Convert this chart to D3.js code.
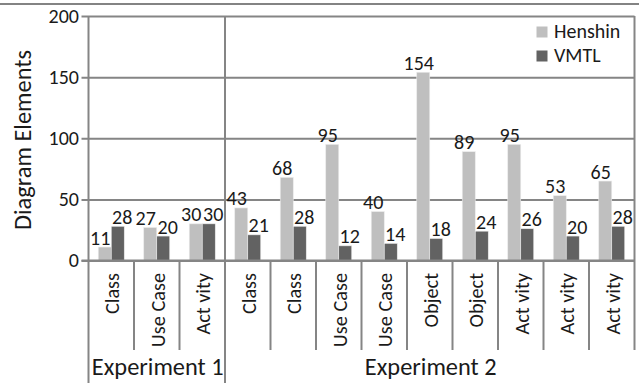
<!DOCTYPE html>
<html>
<head>
<meta charset="utf-8">
<script src="https://cdn.jsdelivr.net/npm/d3@7"></script>
<style>
  html, body { margin: 0; padding: 0; background: #fff; }
  svg { display: block; }
  text { font-family: Carlito, Lato, "Open Sans", sans-serif; fill: #1a1a1a; }
</style>
</head>
<body>
<svg id="chart" width="639" height="383"></svg>
<script>
// Diagram element counts per diagram, Henshin vs. VMTL
const categories = ["Class", "Use Case", "Act vity", "Class", "Class", "Use Case", "Use Case", "Object", "Object", "Act vity", "Act vity", "Act vity"];
const henshin = [11, 27, 30, 43, 68, 95, 40, 154, 89, 95, 53, 65];
const vmtl = [28, 20, 30, 21, 28, 12, 14, 18, 24, 26, 20, 28];
const seriesNames = ["Henshin", "VMTL"];
const seriesColors = ["#bfbfbf", "#626262"];
const groupNames = ["Experiment 1", "Experiment 2"];
const groupSizes = [3, 9];
const yTicks = [0, 50, 100, 150, 200];

const svg = d3.select("#chart");
const W = 639, H = 383;
const plotLeft = 88.5, plotRight = 634.5, plotTop = 16, plotBottom = 260.5;
const gridColor = "#858585";
const fontStack = "Carlito, Lato, 'Open Sans', sans-serif";

const x = d3.scaleBand().domain(d3.range(categories.length)).range([plotLeft, plotRight]);
const bw = x.bandwidth();
const xs = d3.scaleBand().domain(seriesNames).range([bw / 2 - 13, bw / 2 + 13]);
const y = d3.scaleLinear().domain([0, 200]).range([plotBottom, plotTop]);

// frame line across the top
svg.append("line").attr("x1", 0).attr("x2", W).attr("y1", 4).attr("y2", 4)
  .attr("stroke", "#5a5a5a").attr("stroke-width", 1.5);

// value axis with gridlines
const yAxis = d3.axisLeft(y).tickValues(yTicks).tickSize(-(plotRight - 81.5)).tickPadding(2.5);
const gy = svg.append("g").attr("transform", "translate(81.5,0)").call(yAxis);
gy.select(".domain").remove();
gy.selectAll(".tick line").attr("stroke", gridColor).attr("stroke-width", 2);
gy.selectAll(".tick text").attr("font-size", 20).attr("fill", "#1a1a1a")
  .attr("font-family", fontStack);

// vertical frame and group separators
const groupBounds = [0];
groupSizes.forEach((s, i) => groupBounds.push(groupBounds[i] + s));
const edgeX = i => (i >= categories.length ? plotRight : x(i));
svg.append("g").selectAll("line").data(d3.range(categories.length + 1)).join("line")
  .attr("x1", edgeX).attr("x2", edgeX)
  .attr("y1", i => (groupBounds.includes(i) ? plotTop : plotBottom))
  .attr("y2", i => (i === categories.length ? 350 : groupBounds.includes(i) ? H : 350))
  .attr("stroke", gridColor).attr("stroke-width", 2);

// bars
const rows = categories.map((c, i) => ({ i, values: [henshin[i], vmtl[i]] }));
const cat = svg.append("g").selectAll("g").data(rows).join("g")
  .attr("transform", d => `translate(${x(d.i)},0)`);
cat.selectAll("rect").data(d => d.values.map((v, k) => ({ v, k }))).join("rect")
  .attr("x", d => xs(seriesNames[d.k]))
  .attr("width", xs.bandwidth())
  .attr("y", d => y(d.v))
  .attr("height", d => plotBottom - y(d.v))
  .attr("fill", d => seriesColors[d.k])
  .attr("stroke", "#ececec").attr("stroke-width", 0.6);
// value labels, nudged outward from the pair's centre
cat.selectAll("text.val").data(d => d.values.map((v, k) => ({ v, k }))).join("text")
  .attr("class", "val")
  .attr("x", d => xs(seriesNames[d.k]) + xs.bandwidth() / 2 + (d.k === 0 ? -4.5 : 4.5))
  .attr("y", d => y(d.v) - 2.5)
  .attr("text-anchor", "middle").attr("font-size", 20)
  .text(d => d.v);

// baseline
svg.append("line").attr("x1", 81.5).attr("x2", plotRight).attr("y1", plotBottom).attr("y2", plotBottom)
  .attr("stroke", gridColor).attr("stroke-width", 2);

// category labels (rotated)
svg.append("g").selectAll("text").data(categories).join("text")
  .attr("transform", (d, i) => `translate(${x(i) + bw / 2 + 0.5},273) rotate(-90)`)
  .attr("text-anchor", "end").attr("dy", "0.36em").attr("font-size", 20.3)
  .text(d => d);

// group labels
svg.append("g").selectAll("text").data(groupNames).join("text")
  .attr("x", (d, i) => (edgeX(groupBounds[i]) + edgeX(groupBounds[i + 1])) / 2 + 1)
  .attr("y", 375).attr("text-anchor", "middle").attr("font-size", 24.4)
  .text(d => d);

// axis title
svg.append("text")
  .attr("transform", "translate(22,140) rotate(-90)")
  .attr("text-anchor", "middle").attr("dy", "0.36em").attr("font-size", 24.4)
  .text("Diagram Elements");

// legend
const lg = svg.append("g").selectAll("g").data(seriesNames).join("g")
  .attr("transform", (d, i) => `translate(536.5,${26.5 + i * 24})`);
lg.append("rect").attr("width", 11).attr("height", 11).attr("fill", (d, i) => seriesColors[i]);
lg.append("text").attr("x", 17.5).attr("y", 11.5).attr("font-size", 20).text(d => d);
</script>
</body>
</html>
